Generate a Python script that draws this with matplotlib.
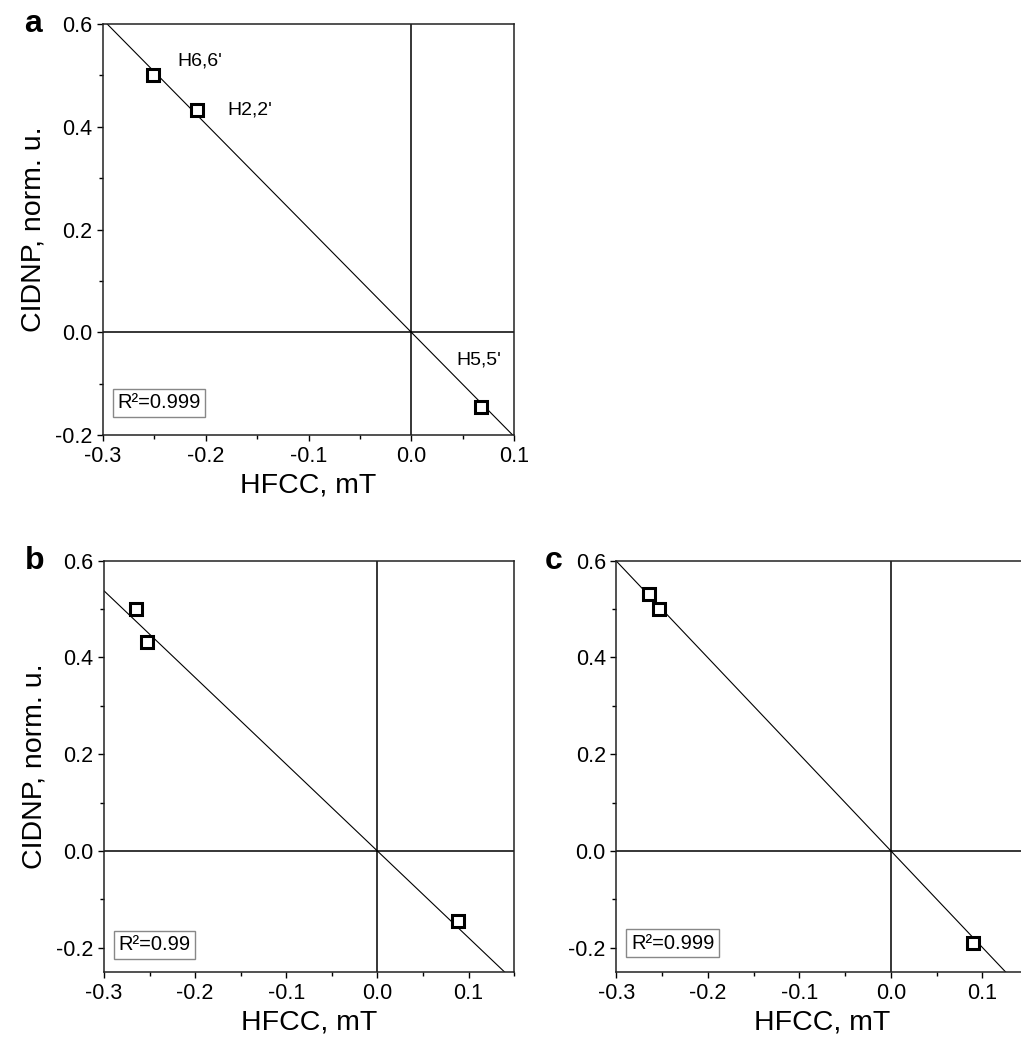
import matplotlib
matplotlib.use("Agg")
import matplotlib.pyplot as plt
import numpy as np

plt.rcParams['font.family'] = ['Liberation Sans', 'DejaVu Sans']
plt.rcParams['axes.unicode_minus'] = False

# HFCC (mT) vs normalised CIDNP for the three systems
hfcc_a = [-0.251, -0.209, 0.068]
cidnp_a = [0.50, 0.432, -0.145]
labels_a = ["H6,6'", "H2,2'", "H5,5'"]

hfcc_b = [-0.265, -0.253, 0.089]
cidnp_b = [0.50, 0.432, -0.145]

hfcc_c = [-0.265, -0.253, 0.090]
cidnp_c = [0.530, 0.50, -0.190]

r2_text = ["0.999", "0.99", "0.999"]


def fit_slope(x, y):
    # least squares line through the origin
    x = np.asarray(x)
    y = np.asarray(y)
    return np.sum(x * y) / np.sum(x * x)


def draw_panel(ax, x, y, xlim, ylim, r2, r2_y, letter, letter_x, ylabel=True):
    ax.axhline(0, color='black', lw=1.1, zorder=1)
    ax.axvline(0, color='black', lw=1.1, zorder=1)

    k = fit_slope(x, y)
    xf = np.array([xlim[0], xlim[1]])
    ax.plot(xf, k * xf, color='black', lw=0.8, zorder=2)

    ax.plot(x, y, 's', ms=9, mfc='white', mec='black', mew=2.2, zorder=3)

    ax.set_xlim(xlim)
    ax.set_ylim(ylim)
    ax.set_xticks(np.arange(-0.3, 0.11, 0.1))
    ax.set_xticks(np.arange(-0.3, xlim[1] + 0.001, 0.05), minor=True)
    ax.set_yticks(np.arange(-0.2, 0.61, 0.2))
    ax.set_yticks(np.arange(-0.2, 0.61, 0.1), minor=True)
    ax.set_xticklabels(['%.1f' % v for v in np.arange(-0.3, 0.11, 0.1)])
    ax.set_yticklabels(['%.1f' % v for v in np.arange(-0.2, 0.61, 0.2)])
    ax.tick_params(which='major', direction='out', length=4.5, width=1.0,
                   labelsize=15.5, pad=3.2)
    ax.tick_params(which='minor', direction='out', length=3, width=1.0)
    for s in ax.spines.values():
        s.set_linewidth(1.1)
        s.set_color('#222222')

    ax.set_xlabel('HFCC, mT', fontsize=20.5, labelpad=4)
    if ylabel:
        ax.set_ylabel('CIDNP, norm. u.', fontsize=20.5, labelpad=6)

    ax.text(0.035, r2_y, 'R\u00b2=' + r2, transform=ax.transAxes, fontsize=14.5,
            ha='left', va='center',
            bbox=dict(boxstyle='square,pad=0.22', fc='white', ec='#888888', lw=1.0))
    ax.text(letter_x, 1.0, letter, transform=ax.transAxes, fontsize=23,
            fontweight='bold', ha='center', va='center')


fig = plt.figure(figsize=(10.21, 10.43), dpi=100)

ax_a = fig.add_axes([0.1009, 0.5829, 0.4026, 0.3941])
draw_panel(ax_a, hfcc_a, cidnp_a, (-0.3, 0.1), (-0.2, 0.6), r2_text[0], 0.078,
           'a', -0.17)
label_pos = [(-0.228, 0.527), (-0.179, 0.433), (0.044, -0.053)]
for t, (tx, ty) in zip(labels_a, label_pos):
    ax_a.text(tx, ty, t, fontsize=14, ha='left', va='center')

ax_b = fig.add_axes([0.1019, 0.0681, 0.4016, 0.3944])
draw_panel(ax_b, hfcc_b, cidnp_b, (-0.3, 0.15), (-0.25, 0.6), r2_text[1], 0.066,
           'b', -0.17)

# right part of this panel runs past the figure edge
ax_c = fig.add_axes([0.6038, 0.0681, 0.4033, 0.3944])
draw_panel(ax_c, hfcc_c, cidnp_c, (-0.3, 0.15), (-0.25, 0.6), r2_text[2], 0.07,
           'c', -0.152, ylabel=False)

fig.savefig('out.png', dpi=100)
